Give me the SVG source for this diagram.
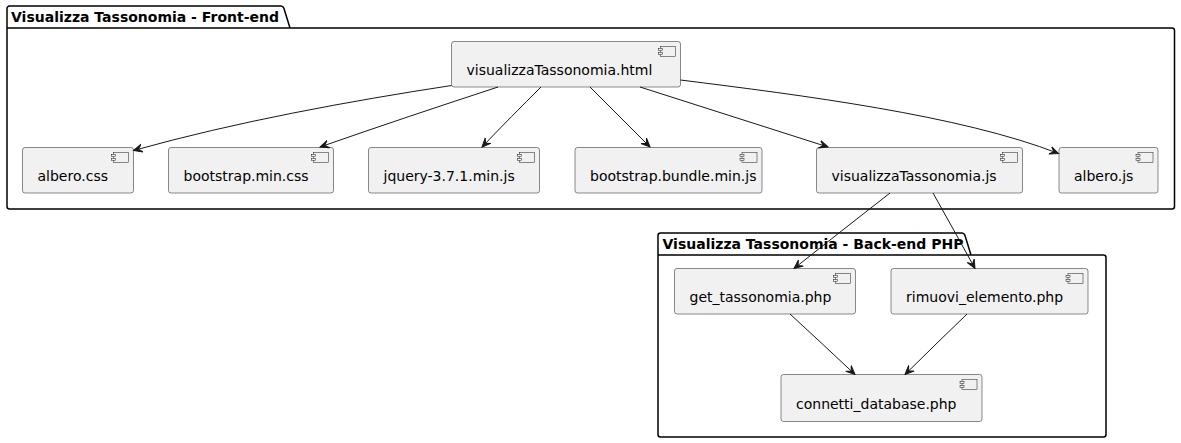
<svg xmlns="http://www.w3.org/2000/svg" width="1181" height="443" viewBox="0 0 1181 443">
<style>
.pkg{fill:none;stroke:#000;stroke-width:1.5}
.ptitle{font-family:"DejaVu Sans",sans-serif;font-size:14px;font-weight:bold;fill:#000}
.box{fill:#F1F1F1;stroke:#181818;stroke-width:0.5}
.ico{fill:#F1F1F1;stroke:#181818;stroke-width:0.5}
.lbl{font-family:"DejaVu Sans",sans-serif;font-size:14px;fill:#000}
.edge{fill:none;stroke:#181818;stroke-width:1;marker-end:url(#arr)}
</style>
<defs>
<marker id="arr" viewBox="0 0 10 10" refX="9" refY="5" markerWidth="10" markerHeight="10" markerUnits="userSpaceOnUse" orient="auto">
<path d="M0,1 L9,5 L0,9 L4,5 Z" fill="#181818" stroke="#181818" stroke-width="1"/>
</marker>
<g id="cicon">
<rect x="-20" y="5" width="15" height="10" class="ico"/>
<rect x="-22" y="7" width="4" height="2" class="ico"/>
<rect x="-22" y="11" width="4" height="2" class="ico"/>
</g>
</defs>
<rect width="1181" height="443" fill="#fff"/>

<g id="pkg-frontend">
<path class="pkg" d="M9.5,6 L281,6 A3,3 0 0 1 283.8,8 L290,28 L1172,28 A2.5,2.5 0 0 1 1174.5,30.5 L1174.5,206.5 A2.5,2.5 0 0 1 1172,209 L9.5,209 A2.5,2.5 0 0 1 7,206.5 L7,8.5 A2.5,2.5 0 0 1 9.5,6 Z M7,28 L290,28"/>
<text class="ptitle" x="11" y="22">Visualizza Tassonomia - Front-end</text>
</g>

<g id="pkg-backend">
<path class="pkg" d="M660.5,233 L962,233 A3,3 0 0 1 964.8,235 L971,255 L1103.5,255 A2.5,2.5 0 0 1 1106,257.5 L1106,434.5 A2.5,2.5 0 0 1 1103.5,437 L660.5,437 A2.5,2.5 0 0 1 658,434.5 L658,235.5 A2.5,2.5 0 0 1 660.5,233 Z M658,255 L971,255"/>
<text class="ptitle" x="662.5" y="249">Visualizza Tassonomia - Back-end PHP</text>
</g>

<g id="n-html">
<rect class="box" x="451.5" y="41.5" width="229" height="45.5" rx="2.5"/>
<use href="#cicon" x="680.5" y="41.5"/>
<text class="lbl" x="466.5" y="75">visualizzaTassonomia.html</text>
</g>
<g id="n-albero-css">
<rect class="box" x="22.5" y="147.5" width="111" height="45.5" rx="2.5"/>
<use href="#cicon" x="133.5" y="147.5"/>
<text class="lbl" x="37.5" y="181">albero.css</text>
</g>
<g id="n-bootstrap-css">
<rect class="box" x="168.5" y="147.5" width="165" height="45.5" rx="2.5"/>
<use href="#cicon" x="333.5" y="147.5"/>
<text class="lbl" x="183.5" y="181">bootstrap.min.css</text>
</g>
<g id="n-jquery">
<rect class="box" x="368.5" y="147.5" width="171" height="45.5" rx="2.5"/>
<use href="#cicon" x="539.5" y="147.5"/>
<text class="lbl" x="383.5" y="181">jquery-3.7.1.min.js</text>
</g>
<g id="n-bootstrap-js">
<rect class="box" x="575" y="147.5" width="187" height="45.5" rx="2.5"/>
<use href="#cicon" x="762" y="147.5"/>
<text class="lbl" x="590" y="181">bootstrap.bundle.min.js</text>
</g>
<g id="n-vt-js">
<rect class="box" x="816.5" y="147.5" width="206" height="45.5" rx="2.5"/>
<use href="#cicon" x="1022.5" y="147.5"/>
<text class="lbl" x="831.5" y="181">visualizzaTassonomia.js</text>
</g>
<g id="n-albero-js">
<rect class="box" x="1059" y="147.5" width="99" height="45.5" rx="2.5"/>
<use href="#cicon" x="1158" y="147.5"/>
<text class="lbl" x="1074" y="181">albero.js</text>
</g>
<g id="n-get">
<rect class="box" x="674.5" y="268.5" width="181" height="45.5" rx="2.5"/>
<use href="#cicon" x="855.5" y="268.5"/>
<text class="lbl" x="689.5" y="302">get_tassonomia.php</text>
</g>
<g id="n-rimuovi">
<rect class="box" x="891" y="268.5" width="197" height="45.5" rx="2.5"/>
<use href="#cicon" x="1088" y="268.5"/>
<text class="lbl" x="906" y="302">rimuovi_elemento.php</text>
</g>
<g id="n-connetti">
<rect class="box" x="781" y="374.5" width="201" height="47" rx="2.5"/>
<use href="#cicon" x="982" y="374.5"/>
<text class="lbl" x="796" y="409">connetti_database.php</text>
</g>

<g id="connectors">
<path class="edge" d="M451.5,85.5 C350,101 235,122 133.5,150.5"/>
<path class="edge" d="M498,87 C440,106 380,126 320,147"/>
<path class="edge" d="M541,87 C522,106 501,127 482,147"/>
<path class="edge" d="M590,87 C610,107 630,127 650,147"/>
<path class="edge" d="M640,87 C703,107 765,127 828,147"/>
<path class="edge" d="M680.5,80 C800,95 960,115 1058.5,153.5"/>
<path class="edge" d="M890,193 C858,218 826,243 794,268.5"/>
<path class="edge" d="M933,193 C947,218 961,243 975,268.5"/>
<path class="edge" d="M790,314 C812,334 833,354 855,374.5"/>
<path class="edge" d="M967,314 C946,334 926,354 905,374.5"/>
</g>
</svg>
